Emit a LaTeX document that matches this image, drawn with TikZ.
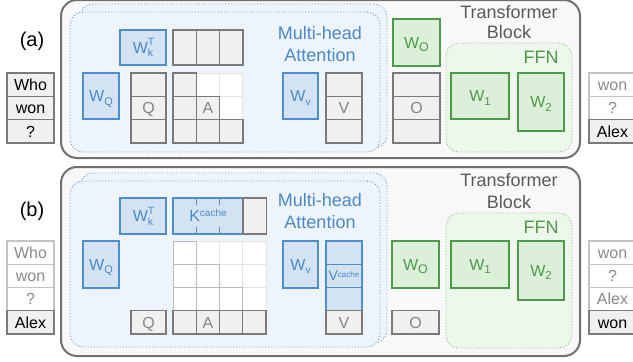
\documentclass[tikz,border=0pt]{standalone}
\usepackage{fontspec}
\setmainfont{Liberation Sans}
\usetikzlibrary{calc}
\definecolor{panelfill}{HTML}{F8F8F8}
\definecolor{paneldraw}{HTML}{707070}
\definecolor{attfill}{HTML}{EEF4FB}
\definecolor{attdraw}{HTML}{5B9BD5}
\definecolor{bluefill}{HTML}{D3E3F4}
\definecolor{bluedraw}{HTML}{4D8ECB}
\definecolor{bluetext}{HTML}{4A89C6}
\definecolor{greenfill}{HTML}{DCEFD8}
\definecolor{greendraw}{HTML}{4E9A4A}
\definecolor{ffnfill}{HTML}{EEF7EC}
\definecolor{ffndraw}{HTML}{7DB878}
\definecolor{cellfill}{HTML}{F0F0F0}
\definecolor{celldraw}{HTML}{7A7A7A}
\definecolor{celltext}{HTML}{858585}
\definecolor{lightdraw}{HTML}{E2E2E2}
\definecolor{middraw}{HTML}{BBBBBB}
\definecolor{tokdraw}{HTML}{C4C4C4}
\definecolor{toktext}{HTML}{8A8A8A}
\definecolor{titletext}{HTML}{5A5A5A}
\newcommand\Wsb[2][11]{W\raisebox{-3.5pt}{\fontsize{#1}{#1}\selectfont #2}}
\newcommand\Wkt{W\rlap{\raisebox{7.5pt}{\fontsize{10.5}{10.5}\selectfont T}}\raisebox{-3.5pt}{\fontsize{10.5}{10.5}\selectfont k}}
\begin{document}
\begin{tikzpicture}[x=1pt,y=-1pt,
  box/.style={inner sep=0pt, outer sep=0pt, anchor=north west},
  panel/.style={box, draw=paneldraw, fill=panelfill, line width=2pt, rounded corners=16pt},
  att/.style={box, draw=attdraw, fill=attfill, line width=0.9pt, dotted, rounded corners=13pt},
  ffn/.style={box, draw=ffndraw, fill=ffnfill, line width=0.9pt, dotted, rounded corners=13pt},
  txt/.style={font=\fontsize{16}{16}\selectfont, text height=11.5pt, text depth=0pt},
  gcell/.style={box, txt, draw=celldraw, fill=cellfill, line width=1.3pt, text=celltext},
  lcell/.style={box, draw=lightdraw, fill=white, line width=1pt},
  mcell/.style={box, draw=middraw, fill=white, line width=1pt},
  tok/.style={gcell, text=black, minimum width=47pt},
  ltok/.style={box, txt, draw=tokdraw, fill=white, line width=1.2pt, text=toktext, minimum width=47pt},
  bbox/.style={box, txt, draw=bluedraw, fill=bluefill, line width=1.3pt, text=bluetext},
  gbox/.style={box, txt, draw=greendraw, fill=greenfill, line width=1.3pt, text=greendraw},
  head/.style={align=center, font=\fontsize{18}{22}\selectfont},
  lab/.style={font=\fontsize{20}{20}\selectfont}
]
\useasboundingbox (0,0) rectangle (633,362);
\clip (0,0) rectangle (633,362);

%% ---------------- panel (a) ----------------
\node[panel, minimum width=519pt, minimum height=158pt] (pa) at (61,0) {};
\node[att, minimum width=307pt, minimum height=144pt] (attab) at (80,4) {};
\node[att, minimum width=310pt, minimum height=140pt] (atta) at (70,12) {};
\node[ffn, minimum width=126pt, minimum height=109pt] (ffna) at (446,43) {};
\node[lab] (la) at (32,41) {(a)};
\node[head, text=bluetext] (mhaa) at (320,44) {Multi-head\\Attention};
\node[head, text=titletext, font=\fontsize{18}{20.5}\selectfont] (tba) at (509,22) {Transformer\\Block};
\node[head, text=greendraw] (ffnta) at (541,57) {FFN};

% input tokens
\node[tok, minimum height=23.33pt] (ina1) at (7,73) {Who};
\node[tok, minimum height=23.33pt] (ina2) at (7,96.33) {won};
\node[tok, minimum height=23.33pt] (ina3) at (7,119.67) {?};
% output tokens
\node[ltok, minimum height=23.33pt] (outa1) at (589,73) {won};
\node[ltok, minimum height=23.33pt] (outa2) at (589,96.33) {?};
\node[tok, minimum height=23.33pt] (outa3) at (589,119.67) {Alex};

% weights
\node[bbox, minimum width=46pt, minimum height=35pt] (wka) at (120,30) {\Wkt};
\node[bbox, minimum width=36pt, minimum height=46pt] (wqa) at (83,73) {\Wsb{Q}};
\node[bbox, minimum width=35pt, minimum height=46pt] (wva) at (283,73) {\Wsb[10]{v}};
\node[gbox, minimum width=47pt, minimum height=47pt] (woa) at (393,19) {\Wsb[12.5]{O}};
\node[gbox, minimum width=58pt, minimum height=46pt] (w1a) at (451,73) {\Wsb[11.5]{1}};
\node[gbox, minimum width=46pt, minimum height=58pt] (w2a) at (518,73) {\Wsb[11.5]{2}};

% K row
\foreach \c in {0,1,2}
  \node[gcell, minimum width=23.33pt, minimum height=35pt] (ka\c) at ({173+23.33*\c},30) {};
% Q column
\node[gcell, minimum width=35pt, minimum height=23.33pt] (qa0) at (131,73) {};
\node[gcell, minimum width=35pt, minimum height=23.33pt] (qa1) at (131,96.33) {Q};
\node[gcell, minimum width=35pt, minimum height=23.33pt] (qa2) at (131,119.67) {};
% A grid
\foreach \r/\c in {0/1,0/2,1/2}
  \node[lcell, minimum width=23.33pt, minimum height=23.33pt] (aa\r\c) at ({173+23.33*\c},{73+23.33*\r}) {};
\foreach \r/\c in {0/0,1/0,2/0,2/1,2/2}
  \node[gcell, minimum width=23.33pt, minimum height=23.33pt] (aa\r\c) at ({173+23.33*\c},{73+23.33*\r}) {};
\node[gcell, minimum width=23.33pt, minimum height=23.33pt] (aa11) at (196.33,96.33) {A};
% V column
\node[gcell, minimum width=36pt, minimum height=23.33pt] (va0) at (326,73) {};
\node[gcell, minimum width=36pt, minimum height=23.33pt] (va1) at (326,96.33) {V};
\node[gcell, minimum width=36pt, minimum height=23.33pt] (va2) at (326,119.67) {};
% O column
\node[gcell, minimum width=47pt, minimum height=23.33pt] (oa0) at (393,73) {};
\node[gcell, minimum width=47pt, minimum height=23.33pt] (oa1) at (393,96.33) {O};
\node[gcell, minimum width=47pt, minimum height=23.33pt] (oa2) at (393,119.67) {};

%% ---------------- panel (b) ----------------
\node[panel, minimum width=519pt, minimum height=189pt] (pb) at (61,167) {};
\node[att, minimum width=307pt, minimum height=170pt] (attbb) at (80,173) {};
\node[att, minimum width=310pt, minimum height=166pt] (attb) at (70,181) {};
\node[ffn, minimum width=126pt, minimum height=135pt] (ffnb) at (446,213) {};
\node[lab] (lb) at (32,211) {(b)};
\node[head, text=bluetext] (mhab) at (320,211) {Multi-head\\Attention};
\node[head, text=titletext, font=\fontsize{18}{21.5}\selectfont] (tbb) at (509,191) {Transformer\\Block};
\node[head, text=greendraw] (ffntb) at (541,227) {FFN};

% input tokens
\node[ltok, minimum height=23.25pt] (inb1) at (7,241) {Who};
\node[ltok, minimum height=23.25pt] (inb2) at (7,264.25) {won};
\node[ltok, minimum height=23.25pt] (inb3) at (7,287.5) {?};
\node[tok, minimum height=23.25pt] (inb4) at (7,310.75) {Alex};
% output tokens
\node[ltok, minimum height=23.25pt] (outb1) at (589,241) {won};
\node[ltok, minimum height=23.25pt] (outb2) at (589,264.25) {?};
\node[ltok, minimum height=23.25pt] (outb3) at (589,287.5) {Alex};
\node[tok, minimum height=23.25pt] (outb4) at (589,310.75) {won};

% weights
\node[bbox, minimum width=46pt, minimum height=36pt] (wkb) at (120,198) {\Wkt};
\node[bbox, minimum width=36pt, minimum height=47pt] (wqb) at (83,241) {\Wsb{Q}};
\node[bbox, minimum width=35pt, minimum height=47pt] (wvb) at (283,241) {\Wsb[10]{v}};
\node[gbox, minimum width=47pt, minimum height=47pt] (wob) at (392,241) {\Wsb[12.5]{O}};
\node[gbox, minimum width=58pt, minimum height=47pt] (w1b) at (451,241) {\Wsb[11.5]{1}};
\node[gbox, minimum width=46pt, minimum height=59pt] (w2b) at (518,241) {\Wsb[11.5]{2}};

% K cache + new column
\node[bbox, minimum width=70pt, minimum height=36pt] (kc) at (173,198) {K\raisebox{5pt}{\fontsize{10}{10}\selectfont cache}};
\foreach \f in {1,2} {
  \draw[bluedraw, line width=1.3pt] ($(kc.north west)!\f/3!(kc.north east)$) -- ++(0,7);
  \draw[bluedraw, line width=1.3pt] ($(kc.south west)!\f/3!(kc.south east)$) -- ++(0,-7);
}
\node[gcell, minimum width=23.33pt, minimum height=36pt] (kn) at (243,198) {};
% Q
\node[gcell, minimum width=35pt, minimum height=23.25pt] (qb) at (131,310.75) {Q};
% A grid 4x4
\foreach \r/\c in {0/1,0/2,0/3,1/2,1/3,2/3}
  \node[lcell, minimum width=23.25pt, minimum height=23.25pt] (ab\r\c) at ({173+23.25*\c},{241+23.25*\r}) {};
\foreach \r/\c in {0/0,1/0,1/1,2/0,2/1,2/2}
  \node[mcell, minimum width=23.25pt, minimum height=23.25pt] (ab\r\c) at ({173+23.25*\c},{241+23.25*\r}) {};
\foreach \c in {0,2,3}
  \node[gcell, minimum width=23.25pt, minimum height=23.25pt] (ab3\c) at ({173+23.25*\c},310.75) {};
\node[gcell, minimum width=23.25pt, minimum height=23.25pt] (ab31) at (196.25,310.75) {A};
% V cache column
\node[bbox, minimum width=36pt, minimum height=23.25pt] (vb0) at (326,241) {};
\node[bbox, minimum width=36pt, minimum height=23.25pt, font=\fontsize{14}{14}\selectfont, text height=10pt] (vb1) at (326,264.25) {V\raisebox{3pt}{\fontsize{8}{8}\selectfont cache}};
\node[bbox, minimum width=36pt, minimum height=23.25pt] (vb2) at (326,287.5) {};
\node[gcell, minimum width=36pt, minimum height=23.25pt] (vb3) at (326,310.75) {V};
% O
\node[gcell, minimum width=47pt, minimum height=23.25pt] (ob) at (392,310.75) {O};
\end{tikzpicture}
\end{document}
